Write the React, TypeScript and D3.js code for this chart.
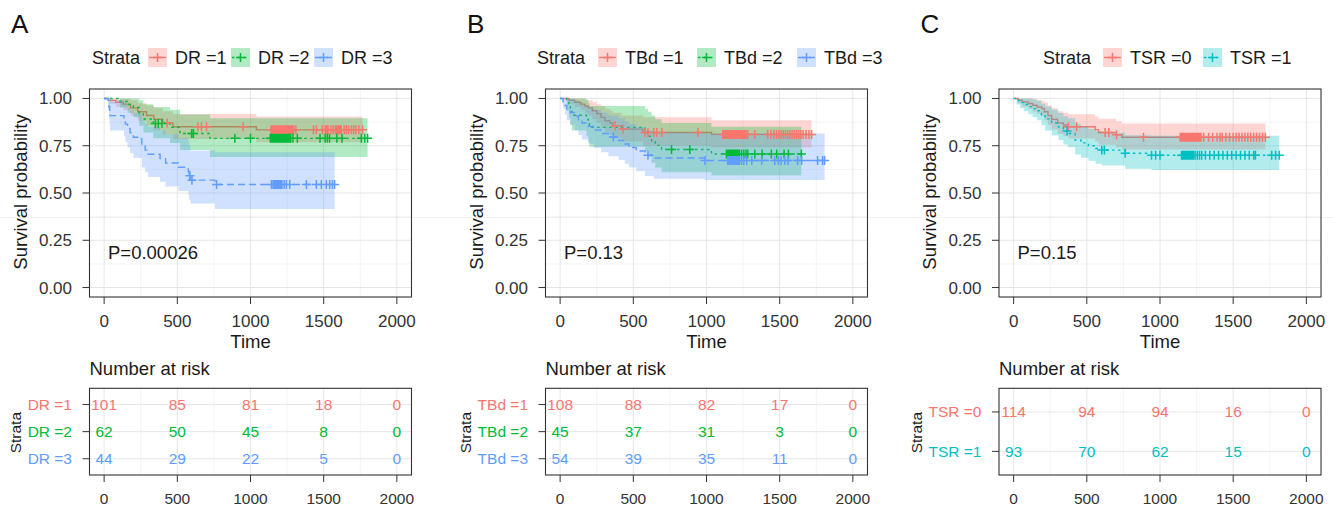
import React from "react";
import * as d3 from "d3";

const FONT = '"Liberation Sans", Arial, Helvetica, sans-serif';

// ---------- shared axis data ----------
const timeTicks = [0, 500, 1000, 1500, 2000];
const timeMinor = [250, 750, 1250, 1750];
const survTicks = [0, 0.25, 0.5, 0.75, 1];
const survMinor = [0.125, 0.375, 0.625, 0.875];
const survTickLabels = ["0.00", "0.25", "0.50", "0.75", "1.00"];

const panelLetters = ["A", "B", "C"];
const pValues = ["P=0.00026", "P=0.13", "P=0.15"];

const colorsThree = ["#F8766D", "#00BA38", "#619CFF"];
const colorsTwo = ["#F8766D", "#00BFC4"];

// ---------- Panel A : DR ----------
const drLabels = ["DR =1", "DR =2", "DR =3"];
const drRisk = [
  [101, 85, 81, 18, 0],
  [62, 50, 45, 8, 0],
  [44, 29, 22, 5, 0],
];
// [time, surv, lower, upper]
const dr1Steps = [
  [0, 1, 1, 1], [30, 0.99, 0.971, 1], [80, 0.98, 0.953, 1], [130, 0.97, 0.937, 1],
  [180, 0.95, 0.91, 0.99], [230, 0.93, 0.882, 0.975], [290, 0.91, 0.857, 0.963],
  [340, 0.89, 0.832, 0.948], [400, 0.87, 0.808, 0.932], [470, 0.85, 0.786, 0.918],
  [1040, 0.834, 0.768, 0.905],
];
const dr1Censor = [430, 640, 665, 700, 950, 1140, 1148, 1155, 1162, 1170, 1176, 1183, 1190, 1196, 1203, 1210, 1216, 1223, 1230, 1238, 1245, 1252, 1260, 1268, 1276, 1285, 1295, 1310, 1430, 1450, 1490, 1510, 1520, 1530, 1550, 1565, 1580, 1590, 1600, 1610, 1620, 1640, 1655, 1670, 1690, 1705, 1720, 1740, 1766];
const dr2Steps = [
  [0, 1, 1, 1], [109, 0.984, 0.952, 1], [160, 0.968, 0.925, 1], [200, 0.952, 0.9, 1],
  [240, 0.92, 0.856, 0.99], [268, 0.891, 0.82, 0.97], [336, 0.868, 0.79, 0.955],
  [450, 0.847, 0.765, 0.94], [518, 0.815, 0.728, 0.915], [723, 0.789, 0.69, 0.895],
];
const dr2Censor = [350, 370, 395, 598, 610, 893, 1000, 1135, 1142, 1150, 1158, 1165, 1172, 1180, 1188, 1195, 1202, 1210, 1218, 1225, 1233, 1240, 1248, 1256, 1265, 1275, 1290, 1320, 1475, 1510, 1525, 1540, 1590, 1625, 1757, 1780, 1800];
const dr3Steps = [
  [0, 1, 1, 1], [28, 0.977, 0.935, 1], [33, 0.955, 0.89, 1], [38, 0.932, 0.86, 1],
  [41, 0.909, 0.83, 0.99], [136, 0.886, 0.8, 0.98], [145, 0.864, 0.77, 0.965],
  [160, 0.841, 0.74, 0.95], [177, 0.818, 0.71, 0.935], [200, 0.795, 0.685, 0.92],
  [257, 0.75, 0.635, 0.885], [280, 0.727, 0.61, 0.865], [300, 0.705, 0.585, 0.85],
  [382, 0.682, 0.56, 0.83], [420, 0.659, 0.535, 0.81], [507, 0.636, 0.51, 0.79],
  [575, 0.614, 0.49, 0.77], [580, 0.591, 0.465, 0.75], [590, 0.568, 0.445, 0.725],
  [757, 0.545, 0.415, 0.715],
];
const dr3Censor = [586, 600, 768, 1143, 1155, 1165, 1175, 1185, 1195, 1205, 1215, 1230, 1245, 1268, 1382, 1450, 1484, 1518, 1541, 1560, 1575];

// ---------- Panel B : TBd ----------
const tbdLabels = ["TBd =1", "TBd =2", "TBd =3"];
const tbdRisk = [
  [108, 88, 82, 17, 0],
  [45, 37, 31, 3, 0],
  [54, 39, 35, 11, 0],
];
const tbd1Steps = [
  [0, 1, 1, 1], [60, 0.99, 0.972, 1], [100, 0.98, 0.955, 1], [140, 0.97, 0.94, 1],
  [170, 0.96, 0.925, 0.995], [193, 0.95, 0.91, 0.99], [220, 0.935, 0.89, 0.98],
  [250, 0.92, 0.87, 0.97], [280, 0.9, 0.845, 0.96], [307, 0.882, 0.823, 0.945],
  [340, 0.87, 0.808, 0.935], [361, 0.855, 0.79, 0.925], [420, 0.838, 0.772, 0.91],
  [566, 0.82, 0.75, 0.9], [1034, 0.81, 0.74, 0.885],
];
const tbd1Censor = [375, 430, 580, 600, 640, 660, 695, 941, 1111, 1120, 1128, 1136, 1144, 1152, 1160, 1168, 1176, 1184, 1192, 1200, 1208, 1216, 1224, 1232, 1240, 1250, 1260, 1270, 1282, 1330, 1418, 1440, 1460, 1478, 1495, 1510, 1525, 1540, 1555, 1570, 1585, 1600, 1615, 1630, 1645, 1660, 1680, 1700, 1718];
const tbd2Steps = [
  [0, 1, 1, 1], [45, 0.978, 0.936, 1], [60, 0.956, 0.898, 1], [70, 0.933, 0.862, 1],
  [80, 0.911, 0.83, 1], [180, 0.889, 0.8, 0.99], [193, 0.867, 0.77, 0.975],
  [200, 0.847, 0.745, 0.96], [580, 0.825, 0.72, 0.945], [600, 0.8, 0.69, 0.93],
  [625, 0.775, 0.66, 0.91], [650, 0.752, 0.635, 0.89], [693, 0.73, 0.61, 0.87],
  [1034, 0.706, 0.592, 0.85],
];
const tbd2Censor = [761, 886, 1136, 1145, 1155, 1165, 1175, 1185, 1195, 1205, 1215, 1225, 1240, 1255, 1270, 1282, 1330, 1380, 1443, 1480, 1530, 1560, 1648];
const tbd3Steps = [
  [0, 1, 1, 1], [20, 0.981, 0.946, 1], [34, 0.963, 0.914, 1], [45, 0.944, 0.885, 1],
  [68, 0.926, 0.858, 1], [100, 0.907, 0.832, 0.99], [125, 0.889, 0.807, 0.98],
  [150, 0.87, 0.783, 0.965], [193, 0.852, 0.76, 0.953], [230, 0.833, 0.738, 0.94],
  [280, 0.815, 0.716, 0.925], [330, 0.796, 0.695, 0.91], [400, 0.778, 0.675, 0.895],
  [443, 0.759, 0.655, 0.88], [470, 0.741, 0.635, 0.865], [520, 0.722, 0.615, 0.85],
  [580, 0.7, 0.59, 0.83], [640, 0.685, 0.575, 0.82], [989, 0.672, 0.569, 0.815],
];
const tbd3Censor = [364, 600, 989, 1145, 1155, 1165, 1175, 1185, 1195, 1205, 1215, 1225, 1240, 1255, 1275, 1309, 1377, 1466, 1490, 1510, 1535, 1557, 1623, 1650, 1759, 1793, 1807];

// ---------- Panel C : TSR ----------
const tsrLabels = ["TSR =0", "TSR =1"];
const tsrRisk = [
  [114, 94, 94, 16, 0],
  [93, 70, 62, 15, 0],
];
const tsr0Steps = [
  [0, 1, 1, 1], [30, 0.991, 0.974, 1], [60, 0.982, 0.958, 1], [100, 0.973, 0.944, 1],
  [130, 0.964, 0.93, 0.998], [160, 0.955, 0.918, 0.993], [192, 0.946, 0.905, 0.988],
  [210, 0.93, 0.885, 0.978], [235, 0.91, 0.86, 0.963], [260, 0.89, 0.836, 0.948],
  [300, 0.87, 0.812, 0.932], [340, 0.86, 0.8, 0.924], [374, 0.85, 0.788, 0.916],
  [557, 0.835, 0.772, 0.905], [580, 0.82, 0.755, 0.893], [700, 0.808, 0.742, 0.88],
  [740, 0.795, 0.73, 0.868],
];
const tsr0Censor = [374, 430, 625, 650, 703, 887, 1138, 1145, 1152, 1160, 1167, 1174, 1181, 1188, 1195, 1202, 1210, 1218, 1226, 1234, 1242, 1250, 1260, 1270, 1280, 1298, 1332, 1360, 1390, 1410, 1425, 1450, 1475, 1500, 1520, 1540, 1560, 1580, 1600, 1620, 1640, 1660, 1680, 1700, 1720];
const tsr1Steps = [
  [0, 1, 1, 1], [20, 0.989, 0.968, 1], [44, 0.978, 0.949, 1], [70, 0.968, 0.932, 1],
  [100, 0.957, 0.916, 1], [130, 0.946, 0.9, 0.994], [160, 0.935, 0.885, 0.987],
  [190, 0.914, 0.858, 0.972], [215, 0.892, 0.83, 0.957], [260, 0.87, 0.804, 0.94],
  [306, 0.849, 0.78, 0.923], [340, 0.828, 0.757, 0.906], [370, 0.815, 0.742, 0.895],
  [420, 0.78, 0.703, 0.865], [460, 0.765, 0.687, 0.852], [511, 0.75, 0.67, 0.838],
  [560, 0.735, 0.655, 0.826], [602, 0.727, 0.645, 0.818], [762, 0.71, 0.628, 0.805],
  [942, 0.7, 0.621, 0.803],
];
const tsr1Censor = [365, 602, 620, 762, 942, 970, 1000, 1147, 1155, 1163, 1171, 1179, 1187, 1195, 1203, 1211, 1219, 1228, 1240, 1255, 1270, 1285, 1310, 1340, 1370, 1400, 1430, 1460, 1490, 1520, 1550, 1580, 1610, 1640, 1652, 1763, 1790, 1815];

// ---------- layout (not data) ----------
const PANEL_OFFSETS = [0, 456, 909.5];
const LEGEND_STRATA_X = [92, 537, 1043];
const LEGEND_KEY_X = [[148, 231, 314], [598, 697, 797], [1103, 1203]];
const DASHES = ["", "2.5,3.5", "7,4"];

const panels = [
  { labels: drLabels, colors: colorsThree, risk: drRisk, steps: [dr1Steps, dr2Steps, dr3Steps], censors: [dr1Censor, dr2Censor, dr3Censor], dashes: DASHES },
  { labels: tbdLabels, colors: colorsThree, risk: tbdRisk, steps: [tbd1Steps, tbd2Steps, tbd3Steps], censors: [tbd1Censor, tbd2Censor, tbd3Censor], dashes: DASHES },
  { labels: tsrLabels, colors: colorsTwo, risk: tsrRisk, steps: [tsr0Steps, tsr1Steps], censors: [tsr0Censor, tsr1Censor], dashes: ["", "2.5,3.5"] },
];

let ctx: CanvasRenderingContext2D | null = null;
function textWidth(s: string, size: number) {
  if (!ctx) ctx = document.createElement("canvas").getContext("2d");
  if (!ctx) return s.length * size * 0.55;
  ctx.font = `${size}px "Liberation Sans", Arial, sans-serif`;
  return ctx.measureText(s).width;
}

const TICK_COL = "#333333";
const TITLE_COL = "#1a1a1a";
const GRID_MAJOR = "#e6e6e6";
const GRID_MINOR = "#f1f1f1";

function plus(cx: number, cy: number, r: number) {
  return `M${cx - r},${cy}H${cx + r}M${cx},${cy - r}V${cy + r}`;
}

function survAt(steps: number[][], t: number) {
  let s = 1;
  for (const st of steps) if (st[0] <= t) s = st[1];
  return s;
}

function Panel({ idx }: { idx: number }) {
  const cfg = panels[idx];
  const ox = PANEL_OFFSETS[idx];
  const left = ox + 89.5;
  const width = 322;
  const top = 89;
  const bottom = 297;
  const x = d3.scaleLinear().domain([-100, 2100]).range([left, left + width]);
  const y = d3.scaleLinear().domain([-0.05, 1.05]).range([bottom, top]);

  const tTop = 388.3;
  const tBot = 475;
  const n = cfg.labels.length;
  const yr = d3.scaleLinear().domain([0.4, n + 0.6]).range([tBot, tTop]);

  const line = d3.line<number[]>().x((d) => x(d[0])).y((d) => y(d[1])).curve(d3.curveStepAfter);
  const area = d3.area<number[]>().x((d) => x(d[0])).y0((d) => y(d[2])).y1((d) => y(d[3])).curve(d3.curveStepAfter);

  const groups = cfg.steps.map((steps, g) => {
    const end = d3.max(cfg.censors[g]) as number;
    const last = steps[steps.length - 1];
    const pts = [...steps, [end, last[1], last[2], last[3]]];
    return { pts, color: cfg.colors[g], dash: cfg.dashes[g], censors: cfg.censors[g], steps };
  });

  const labelRight = ox + 72;
  const maxLabW = d3.max(cfg.labels, (l) => textWidth(l, 15.5)) as number;
  const strataX = labelRight - maxLabW - 12;

  return (
    <g>
      {/* panel letter */}
      <text x={ox + 11} y={33} fontSize={26} fill="#111" fontFamily={FONT}>{panelLetters[idx]}</text>

      {/* legend */}
      <text x={LEGEND_STRATA_X[idx]} y={64} fontSize={18} fill={TITLE_COL} fontFamily={FONT}>Strata</text>
      {cfg.labels.map((lab, g) => {
        const kx = LEGEND_KEY_X[idx][g];
        return (
          <g key={"lg" + g}>
            <rect x={kx} y={48} width={19} height={19} fill={cfg.colors[g]} fillOpacity={0.3} />
            <line x1={kx + 1} x2={kx + 18} y1={57.5} y2={57.5} stroke={cfg.colors[g]} strokeWidth={1.4} strokeDasharray={cfg.dashes[g]} />
            <path d={plus(kx + 9.5, 57.5, 4.5)} stroke={cfg.colors[g]} strokeWidth={1.5} />
            <text x={kx + 27} y={64} fontSize={18} fill={TITLE_COL} fontFamily={FONT}>{lab}</text>
          </g>
        );
      })}

      {/* plot panel */}
      <rect x={left} y={top} width={width} height={bottom - top} fill="#fff" />
      {timeMinor.map((t) => (
        <line key={"xm" + t} x1={x(t)} x2={x(t)} y1={top} y2={bottom} stroke={GRID_MINOR} strokeWidth={0.8} />
      ))}
      {survMinor.map((s) => (
        <line key={"ym" + s} x1={left} x2={left + width} y1={y(s)} y2={y(s)} stroke={GRID_MINOR} strokeWidth={0.8} />
      ))}
      {timeTicks.map((t) => (
        <line key={"xg" + t} x1={x(t)} x2={x(t)} y1={top} y2={bottom} stroke={GRID_MAJOR} strokeWidth={1} />
      ))}
      {survTicks.map((s) => (
        <line key={"yg" + s} x1={left} x2={left + width} y1={y(s)} y2={y(s)} stroke={GRID_MAJOR} strokeWidth={1} />
      ))}

      {groups.map((g, gi) => (
        <g key={"cv" + gi}>
          <path d={area(g.pts) || ""} fill={g.color} fillOpacity={0.3} stroke="none" />
          <path d={line(g.pts) || ""} fill="none" stroke={g.color} strokeWidth={1.4} strokeDasharray={g.dash} />
        </g>
      ))}
      {groups.map((g, gi) => (
        <path
          key={"cs" + gi}
          d={g.censors.map((c) => plus(x(c), y(survAt(g.steps, c)), 4.5)).join("")}
          stroke={g.color}
          strokeWidth={1.5}
          fill="none"
        />
      ))}

      <text x={ox + 108} y={259} fontSize={18.5} fill={TITLE_COL} fontFamily={FONT}>{pValues[idx]}</text>

      <rect x={left} y={top} width={width} height={bottom - top} fill="none" stroke="#333" strokeWidth={1.1} />

      {/* y axis */}
      {survTicks.map((s, i) => (
        <g key={"yt" + s}>
          <line x1={left - 7} x2={left} y1={y(s)} y2={y(s)} stroke="#333" strokeWidth={1} />
          <text x={ox + 72} y={y(s) + 6} textAnchor="end" fontSize={17} fill={TICK_COL} fontFamily={FONT}>{survTickLabels[i]}</text>
        </g>
      ))}
      <text transform={`translate(${ox + 26.5},${(top + bottom) / 2 - 1}) rotate(-90)`} textAnchor="middle" fontSize={18.5} fill={TITLE_COL} fontFamily={FONT}>Survival probability</text>

      {/* x axis */}
      {timeTicks.map((t) => (
        <g key={"xt" + t}>
          <line x1={x(t)} x2={x(t)} y1={bottom} y2={bottom + 7} stroke="#333" strokeWidth={1} />
          <text x={x(t)} y={327} textAnchor="middle" fontSize={17} fill={TICK_COL} fontFamily={FONT}>{t}</text>
        </g>
      ))}
      <text x={left + width / 2} y={347.5} textAnchor="middle" fontSize={18.5} fill={TITLE_COL} fontFamily={FONT}>Time</text>

      {/* risk table */}
      <text x={left} y={375} fontSize={18.5} fill={TITLE_COL} fontFamily={FONT}>Number at risk</text>
      <rect x={left} y={tTop} width={width} height={tBot - tTop} fill="#fff" />
      {timeMinor.map((t) => (
        <line key={"rxm" + t} x1={x(t)} x2={x(t)} y1={tTop} y2={tBot} stroke={GRID_MINOR} strokeWidth={0.8} />
      ))}
      {timeTicks.map((t) => (
        <line key={"rxg" + t} x1={x(t)} x2={x(t)} y1={tTop} y2={tBot} stroke={GRID_MAJOR} strokeWidth={1} />
      ))}
      {cfg.labels.map((_, g) => (
        <line key={"ryg" + g} x1={left} x2={left + width} y1={yr(n - g)} y2={yr(n - g)} stroke={GRID_MAJOR} strokeWidth={1} />
      ))}
      {cfg.risk.map((row, g) =>
        row.map((v, k) => (
          <text key={"rv" + g + "-" + k} x={x(timeTicks[k])} y={yr(n - g) + 5.5} textAnchor="middle" fontSize={15.5} fill={cfg.colors[g]} fontFamily={FONT}>{v}</text>
        ))
      )}
      <rect x={left} y={tTop} width={width} height={tBot - tTop} fill="none" stroke="#333" strokeWidth={1.1} />
      {cfg.labels.map((lab, g) => (
        <g key={"rl" + g}>
          <line x1={left - 7} x2={left} y1={yr(n - g)} y2={yr(n - g)} stroke="#333" strokeWidth={1} />
          <text x={labelRight} y={yr(n - g) + 5.5} textAnchor="end" fontSize={15.5} fill={cfg.colors[g]} fontFamily={FONT}>{lab}</text>
        </g>
      ))}
      <text transform={`translate(${strataX + 5.5},${(tTop + tBot) / 2 + 1}) rotate(-90)`} textAnchor="middle" fontSize={15.5} fill={TITLE_COL} fontFamily={FONT}>Strata</text>
      {timeTicks.map((t) => (
        <g key={"rxt" + t}>
          <line x1={x(t)} x2={x(t)} y1={tBot} y2={tBot + 7} stroke="#333" strokeWidth={1} />
          <text x={x(t)} y={504} textAnchor="middle" fontSize={15.5} fill={TICK_COL} fontFamily={FONT}>{t}</text>
        </g>
      ))}
    </g>
  );
}

export default function App() {
  return (
    <svg
      width={1333}
      height={507}
      viewBox="0 0 1333 507"
      style={{ position: "absolute", left: 0, top: 0, display: "block", background: "#fff" }}
    >
      <rect x={0} y={0} width={1333} height={507} fill="#fff" />
      {panels.map((_, i) => (
        <Panel key={i} idx={i} />
      ))}
      <line x1={0} x2={1333} y1={217.6} y2={217.6} stroke="#000" strokeOpacity={0.06} strokeWidth={1} />
    </svg>
  );
}
